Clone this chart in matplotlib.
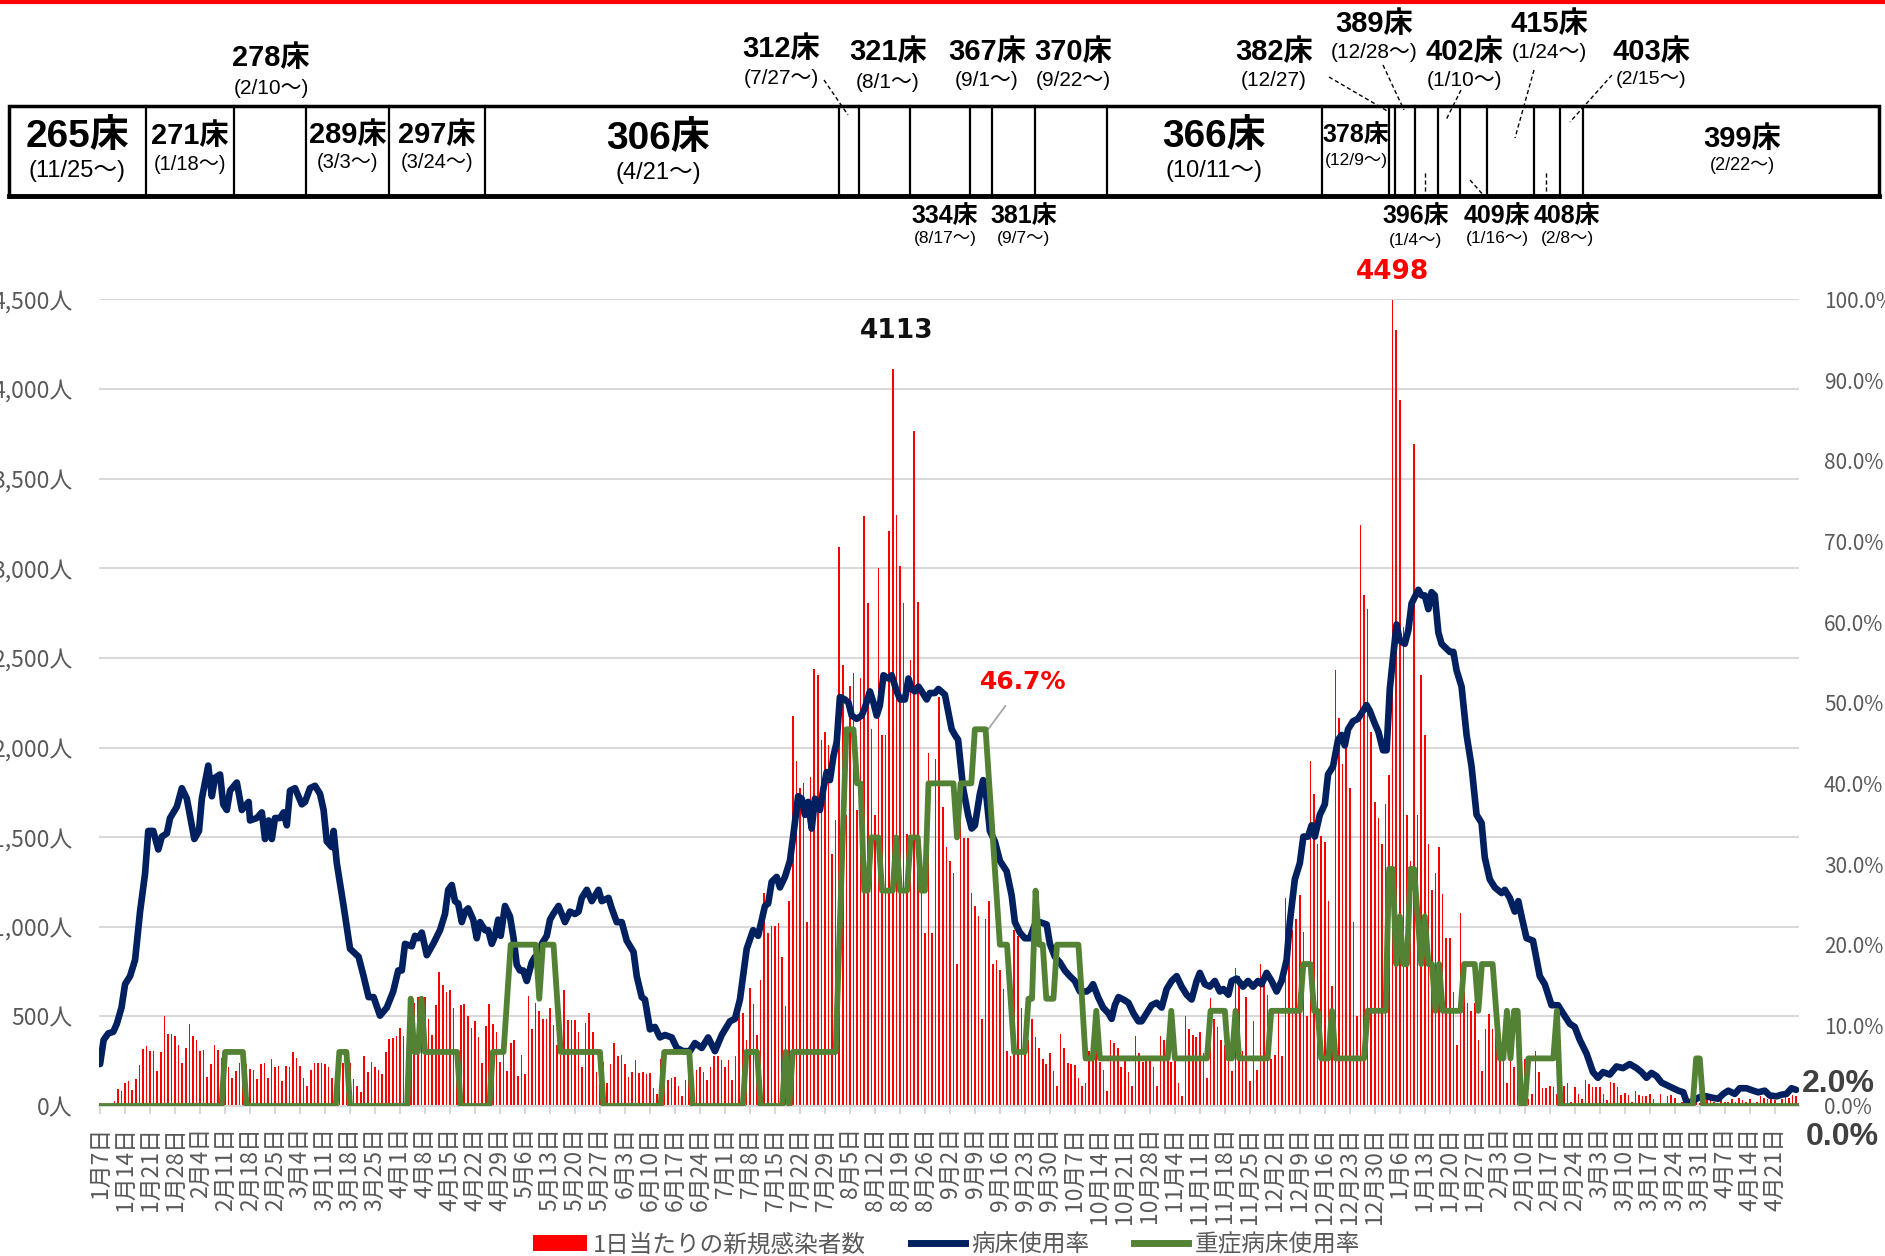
import matplotlib.pyplot as plt
import numpy as np
import pandas as pd
from matplotlib.lines import Line2D
from matplotlib.patches import Patch, Rectangle

plt.rcParams['font.family'] = ['Noto Sans CJK JP', 'DejaVu Sans']

start_date = '2021-01-07'

# daily new cases, one value per day from 1/7
new_cases = [
    18, 9, 9, 9, 30, 93, 84, 129, 138, 90,
    152, 230, 320, 332, 308, 308, 197, 302, 502, 404,
    404, 392, 338, 239, 323, 457, 389, 368, 308, 314,
    164, 233, 338, 314, 269, 230, 218, 158, 194, 242,
    218, 233, 206, 200, 150, 233, 242, 158, 260, 218,
    224, 138, 221, 218, 302, 266, 221, 158, 114, 200,
    239, 242, 239, 236, 215, 158, 188, 278, 242, 203,
    239, 152, 114, 78, 278, 188, 248, 218, 203, 176,
    302, 374, 380, 389, 437, 392, 239, 428, 577, 607,
    577, 607, 487, 398, 562, 748, 673, 637, 646, 547,
    308, 562, 571, 502, 434, 472, 383, 239, 449, 568,
    457, 413, 248, 308, 194, 353, 368, 167, 284, 179,
    616, 428, 577, 532, 487, 487, 547, 451, 338, 284,
    646, 478, 478, 478, 413, 218, 463, 517, 413, 188,
    129, 248, 129, 233, 353, 278, 287, 233, 164, 188,
    257, 182, 188, 179, 182, 99, 69, 263, 218, 144,
    158, 164, 114, 54, 144, 203, 129, 203, 218, 188,
    144, 218, 278, 278, 254, 218, 254, 144, 278, 562,
    517, 368, 661, 568, 398, 703, 1190, 966, 1002, 1002,
    1020, 831, 556, 1145, 2177, 1923, 1773, 1803, 1026, 1833,
    2437, 2407, 2042, 2087, 2012, 1408, 1594, 3119, 2461, 1624,
    2341, 2416, 1653, 2386, 3292, 2805, 2102, 1624, 2999, 2072,
    2072, 3208, 4113, 3298, 3014, 2805, 1519, 2491, 3767, 2811,
    1384, 966, 1967, 966, 1937, 2281, 1668, 1444, 1369, 1301,
    792, 1624, 1495, 1495, 1190, 1115, 1061, 487, 1046, 1145,
    795, 816, 756, 652, 308, 278, 981, 951, 547, 472,
    368, 487, 383, 323, 263, 233, 293, 194, 114, 404,
    323, 242, 233, 227, 158, 114, 129, 308, 278, 323,
    248, 203, 84, 368, 353, 323, 218, 263, 188, 114,
    392, 293, 248, 278, 263, 218, 114, 392, 368, 329,
    248, 293, 129, 54, 502, 428, 398, 383, 413, 293,
    158, 601, 487, 443, 368, 338, 278, 194, 771, 727,
    308, 607, 138, 472, 203, 792, 697, 622, 263, 284,
    547, 278, 1160, 1070, 981, 1041, 1175, 972, 502, 1923,
    1743, 1459, 1504, 1474, 1145, 667, 2431, 2162, 1908, 2072,
    1773, 1026, 502, 3244, 2849, 2775, 2087, 1698, 1609, 1459,
    1683, 1848, 4498, 4330, 3941, 2670, 1624, 1369, 3693, 1624,
    2407, 2072, 1459, 1205, 1300, 1444, 1181, 936, 936, 637,
    338, 1076, 637, 577, 532, 577, 368, 194, 428, 511,
    428, 592, 398, 368, 129, 278, 218, 233, 30, 263,
    39, 69, 308, 188, 99, 99, 114, 105, 69, 39,
    114, 129, 24, 105, 69, 39, 144, 123, 105, 105,
    105, 69, 33, 135, 129, 105, 63, 75, 60, 24,
    84, 63, 54, 54, 69, 39, 9, 69, 9, 54,
    63, 45, 9, 24, 15, 9, 24, 24, 15, 24,
    39, 33, 24, 18, 39, 24, 24, 39, 24, 45,
    33, 24, 39, 18, 24, 54, 45, 39, 39, 33,
    18, 39, 54, 45, 63, 54,
]

# bed occupancy (%), read as (day from 1/7, value)
bed_points = [
    (0, 5.2), (1, 8.2), (2.3, 9.0), (3.7, 9.2), (4.7, 10.2), (6, 12.2), (7, 15.1), (8.4, 16.1),
    (9.8, 18.1), (11.2, 24.1), (12.6, 28.8), (13.5, 34.1), (14.9, 34.1), (16.3, 31.8), (17.3, 33.4),
    (18.7, 33.8), (19.6, 35.7), (21.5, 37.1), (22.9, 39.4), (24.3, 38.1), (25.7, 34.8), (26.4, 33.1),
    (27.7, 34.1), (28.5, 38.1), (30.3, 42.2), (31.3, 38.4), (32.2, 40.7), (33.6, 41.1), (34.5, 37.4),
    (35.5, 36.7), (36.4, 39.1), (38.3, 40.1), (39.7, 36.7), (41.6, 37.7), (42, 35.4), (43.9, 35.7),
    (45.3, 36.4), (46.2, 33.1), (47.2, 35.4), (48.1, 33.1), (49, 35.7), (50.4, 35.7), (51.4, 36.4),
    (52.3, 34.8), (53.2, 39.1), (54.6, 39.4), (56.5, 37.4), (57.4, 37.7), (58.8, 39.4), (60.2, 39.7),
    (61.6, 38.7), (62.6, 36.7), (63.5, 32.8), (64.9, 32.1), (65.4, 34.1), (66.3, 30.1), (68.2, 24.8),
    (70, 19.5), (72.4, 18.5), (73.8, 16.1), (75.2, 13.5), (76.6, 13.5), (78.4, 11.2), (80.3, 12.2),
    (82.1, 14.2), (83.5, 16.8), (84.5, 16.8), (85.4, 20.1), (87.3, 19.8), (88.2, 21.1), (89.1, 20.8),
    (90.1, 21.5), (91.5, 18.7), (93.3, 20.1), (95.2, 21.8), (96.6, 23.8), (97.5, 26.8), (98.5, 27.4),
    (99.4, 25.4), (100.3, 25.1), (101.3, 22.8), (102.2, 24.1), (103.1, 24.5), (104.5, 23.1),
    (105.5, 20.8), (106.4, 22.8), (107.8, 21.8), (108.7, 21.8), (109.7, 20.1), (110.6, 21.1),
    (111.5, 23.1), (112.2, 21.1), (113.4, 24.8), (114.8, 23.5), (115.8, 20.8), (116.7, 17.5),
    (117.6, 16.8), (118.5, 16.8), (119.5, 15.5), (120.9, 17.8), (121.8, 18.5), (122.7, 17.8),
    (123.7, 20.1), (125.1, 21.1), (126, 23.1), (126.9, 23.8), (128.4, 24.8), (129.3, 23.8),
    (130.2, 22.8), (131.6, 24.1), (133, 23.8), (134, 24.1), (134.9, 25.8), (136.3, 26.8), (137.7, 25.4),
    (139.6, 26.8), (140.5, 25.4), (142.4, 25.8), (143.3, 24.5), (144.7, 22.8), (146.1, 22.8),
    (147.5, 20.5), (149.4, 19.1), (150.3, 16.1), (151.7, 13.5), (152.6, 13.2), (154, 9.5), (155.4, 9.8),
    (156.8, 8.5), (158.2, 8.8), (160.1, 8.5), (161.5, 7.2), (163.3, 6.8), (165.2, 6.8), (166.6, 7.8),
    (168.5, 7.2), (170.3, 8.5), (172.2, 6.8), (174.1, 8.8), (176.4, 10.5), (177.8, 10.8), (179.2, 13.2),
    (181.1, 19.5), (182.9, 21.8), (184.3, 21.1), (186.2, 24.8), (187.1, 25.1), (188.1, 27.8),
    (189.5, 28.4), (190.4, 27.1), (191.8, 28.4), (193.2, 30.4), (194.1, 33.4), (195.5, 38.4),
    (196.5, 38.1), (197.4, 36.1), (198.3, 37.7), (199.3, 34.4), (200.2, 38.1), (201.6, 36.7),
    (202.6, 39.4), (203.5, 41.4), (204.4, 40.4), (205.4, 43.4), (206.3, 45.1), (207.2, 50.7),
    (208.6, 50.4), (209.6, 50.0), (210.5, 48.4), (211.9, 48.0), (213.3, 48.4), (214.2, 49.4),
    (215.6, 51.4), (216.6, 50.0), (217.5, 48.4), (218.4, 49.7), (219.4, 53.4), (220.8, 53.0),
    (221.7, 53.4), (223.1, 51.4), (224.1, 50.4), (225.4, 50.4), (226.4, 53.0), (227.3, 51.7),
    (228.2, 51.4), (229.2, 52.0), (230.1, 51.4), (231.5, 50.4), (232.4, 51.2), (233.8, 51.2),
    (234.8, 51.7), (236.6, 51.0), (237.6, 48.7), (238.5, 46.7), (239.4, 46.0), (240.3, 45.4),
    (241.7, 39.4), (243.1, 36.1), (244.1, 34.4), (245, 34.8), (246.4, 38.7), (247.3, 40.4),
    (248.3, 38.1), (249.2, 34.1), (250.6, 32.8), (252, 30.4), (253.9, 29.1), (255.3, 26.1),
    (256.2, 22.8), (257.6, 21.5), (259, 20.8), (260.4, 20.8), (261.8, 22.5), (263.2, 22.8),
    (265.1, 22.5), (266, 20.1), (267.4, 18.5), (268.8, 17.8), (270.2, 16.8), (271.6, 16.1), (273, 15.5),
    (274.4, 14.2), (276.3, 14.2), (277.2, 14.5), (278.1, 15.1), (279.5, 13.5), (280.9, 12.2),
    (282.4, 11.5), (283.3, 10.8), (284.2, 12.5), (285.2, 13.5), (286.6, 13.2), (288, 12.8),
    (289.4, 11.5), (290.8, 10.5), (291.7, 10.5), (293.1, 11.5), (294.5, 12.5), (295.9, 12.8),
    (297.3, 12.2), (298.7, 14.5), (300.1, 15.5), (301.5, 16.1), (302.9, 14.8), (304.3, 13.8),
    (305.7, 13.2), (307.1, 15.5), (308, 16.5), (309.4, 15.1), (310.8, 14.8), (312.2, 15.5),
    (313.6, 14.2), (314.6, 14.5), (316, 13.8), (316.9, 15.5), (318.3, 15.8), (320.1, 14.8),
    (321.5, 15.5), (322.9, 14.8), (324.3, 15.5), (325.3, 15.1), (326.7, 16.5), (328.1, 15.5),
    (329.5, 14.2), (330.9, 15.5), (332.3, 18.1), (333.2, 22.8), (334.6, 28.1), (336, 30.1), (337, 33.4),
    (338.3, 33.4), (339.3, 34.8), (340.2, 33.4), (341.6, 36.1), (343, 37.4), (343.9, 41.1),
    (345.3, 42.1), (346.7, 45.4), (347.7, 46.0), (348.6, 44.7), (349.5, 46.7), (350.9, 47.7),
    (352.3, 48.0), (353.7, 49.0), (354.7, 49.7), (355.6, 49.0), (357, 47.4), (358, 46.4),
    (359.3, 44.1), (360.3, 44.1), (361.2, 51.7), (362.2, 56.0), (363.1, 59.7), (364, 57.7),
    (365.4, 57.3), (366.4, 59.0), (367.3, 62.3), (369.2, 64.0), (370.1, 63.3), (371, 63.3), (372, 61.6),
    (372.9, 63.7), (373.8, 63.3), (374.8, 58.7), (375.7, 57.3), (377.1, 56.7), (378, 56.3), (379, 56.3),
    (379.9, 54.0), (381.3, 52.0), (382.7, 46.0), (384.1, 42.1), (385.5, 36.1), (386.9, 35.1),
    (387.8, 30.8), (389.2, 28.1), (390.6, 27.1), (392.5, 26.4), (393.4, 26.8), (394.8, 25.8),
    (396.2, 24.1), (397.2, 25.4), (398.1, 23.5), (399.5, 20.8), (401.3, 20.5), (403.2, 16.1),
    (404.6, 15.1), (406.5, 12.5), (408.3, 12.5), (409.7, 11.5), (411.6, 10.2), (413, 9.8), (414.4, 8.2),
    (416.3, 6.5), (418.1, 4.2), (419.5, 3.5), (420.9, 4.2), (422.8, 3.9), (424.7, 4.9), (426.5, 4.7),
    (428.4, 5.2), (430.3, 4.7), (431.7, 4.2), (433.1, 3.5), (434.5, 4.1), (435.9, 3.7), (437.3, 2.9),
    (439.2, 2.5), (440.6, 2.2), (442, 1.9), (443.4, 1.7), (444.3, 0.5), (445.7, 0.5), (447.1, 0.9),
    (448.5, 1.2), (449.9, 1.2), (451.8, 1.0), (453.2, 0.9), (454.6, 1.5), (456, 1.9), (457.8, 1.5),
    (459.2, 2.2), (461.1, 2.2), (463, 1.9), (464.4, 1.7), (466.2, 1.9), (467.6, 1.3), (469.5, 1.2),
    (470.9, 1.4), (472.3, 1.5), (473.7, 2.2), (475, 2.0),
]

# severe-bed occupancy (%): value holds from that day until the next change
severe_from = [0, 35, 41, 67, 70, 87, 88, 90, 91, 101, 110, 114, 115, 123, 124, 128, 129, 141,
               158, 166, 181, 185, 192, 193, 194, 207, 208, 209, 212, 214, 216, 219, 223, 224,
               227, 230, 232, 240, 241, 245, 249, 250, 251, 252, 255, 256, 260, 262, 263, 265,
               268, 275, 276, 279, 280, 300, 301, 311, 316, 318, 319, 328, 337, 340, 342, 345,
               346, 355, 361, 363, 364, 365, 367, 369, 370, 371, 372, 374, 375, 376, 382, 386,
               387, 391, 392, 394, 395, 396, 398, 400, 408, 409, 447, 449]
severe_rate = [0, 6.7, 0, 6.7, 0, 13.3, 6.7, 13.3, 6.7, 0, 6.7, 13.3, 20, 13.3, 20, 13.3, 6.7, 0,
               6.7, 0, 6.7, 0, 6.7, 0, 6.7, 20, 33.3, 46.7, 40, 26.7, 33.3, 26.7, 33.3, 26.7,
               33.3, 26.7, 40, 33.3, 40, 46.7, 40, 33.3, 26.7, 20, 13.3, 6.7, 13.3, 26.7, 20, 13.3,
               20, 13.3, 5.9, 11.8, 5.9, 11.8, 5.9, 11.8, 5.9, 11.8, 5.9, 11.8, 17.6, 11.8, 5.9, 11.8,
               5.9, 11.8, 29.4, 17.6, 23.5, 17.6, 29.4, 23.5, 17.6, 23.5, 17.6, 11.8, 17.6, 11.8, 17.6, 11.8,
               17.6, 11.8, 5.9, 11.8, 5.9, 11.8, 0, 5.9, 11.8, 0, 5.9, 0]

# bed capacity table
bed_counts = ['265床', '271床', '278床', '289床', '297床', '306床', '312床', '321床', '334床',
              '367床', '381床', '370床', '366床', '378床', '382床', '389床', '396床', '402床',
              '409床', '415床', '408床', '403床', '399床']
bed_since = ['(11/25～)', '(1/18～)', '(2/10～)', '(3/3～)', '(3/24～)', '(4/21～)', '(7/27～)',
             '(8/1～)', '(8/17～)', '(9/1～)', '(9/7～)', '(9/22～)', '(10/11～)', '(12/9～)',
             '(12/27)', '(12/28～)', '(1/4～)', '(1/10～)', '(1/16～)', '(1/24～)', '(2/8～)',
             '(2/15～)', '(2/22～)']

# table layout in pixels: x, y of count, y of date, font sizes
label_pos = [(77, 137, 171, 28, 17), (190, 136, 165, 21, 14.5), (271, 58, 89, 21, 15),
             (348, 135, 162, 21, 14.5), (437, 135, 162, 21, 14.5), (658, 139, 173, 28, 17),
             (781, 49, 79, 21, 15), (888, 52, 82, 21, 15), (945, 216, 239, 18, 12.5),
             (987, 52, 81, 21, 15), (1024, 216, 239, 18, 12.5), (1073, 52, 81, 21, 15),
             (1214, 137, 171, 28, 17), (1356, 135, 161, 18, 12.5), (1274, 52, 81, 21, 15),
             (1374, 24, 53, 21, 15), (1416, 216, 240, 18, 12.5), (1464, 52, 81, 21, 15),
             (1497, 216, 239, 18, 12.5), (1549, 24, 53, 21, 15), (1567, 216, 238, 18, 12.5),
             (1651, 52, 80, 21, 14), (1742, 139, 166, 21, 13)]
cell_edges = [146, 234, 306, 389, 485, 839, 859, 910, 970, 992, 1035, 1107, 1322, 1389,
              1395, 1415, 1438, 1460, 1487, 1534, 1560, 1583]
leaders = [((824, 80), (848, 115)), ((1329, 77), (1389, 112)), ((1383, 65), (1404, 110)),
           ((1461, 90), (1446, 120)), ((1534, 70), (1515, 138)), ((1612, 75), (1570, 122)),
           ((1425, 173), (1425, 193)), ((1470, 180), (1485, 197)), ((1546, 173), (1546, 197))]

days = np.arange(len(new_cases))
dates = pd.date_range(start_date, periods=len(new_cases))
bed_days, bed_rate = zip(*bed_points)
severe = np.repeat(severe_rate, np.diff(severe_from + [len(new_cases)]))

W, H = 1885, 1256
fig = plt.figure(figsize=(W / 100, H / 100), dpi=100)
gray = '#595959'

ax = fig.add_axes([99 / W, 1 - 1106 / H, 1700 / W, 806.6 / H])
ax.bar(days, new_cases, width=0.45, color='#FF0000', zorder=2)
ax.set_xlim(-0.3, 475.8)
ax.set_ylim(0, 4500)
ax.set_yticks(np.arange(0, 4501, 500))
ax.set_yticklabels([f'{v:,}人' for v in range(0, 4501, 500)])
ax.tick_params(axis='y', length=0, pad=19, labelsize=16.5, labelcolor=gray)
ax.set_xticks(days[::7])
ax.set_xticklabels([f'{d.month}月{d.day}日' for d in dates[::7]], rotation=90)
ax.tick_params(axis='x', length=6, width=1.2, color='#D0D0D0', pad=9, labelsize=16.5,
               labelcolor=gray)
ax.yaxis.grid(True, color='#D9D9D9', lw=1.5)
ax.set_axisbelow(True)
for s in ['top', 'left', 'right']:
    ax.spines[s].set_visible(False)
ax.spines['bottom'].set_color('#D9D9D9')
ax.spines['bottom'].set_linewidth(1.5)

ax2 = ax.twinx()
ax2.plot(bed_days, bed_rate, color='#002060', lw=4.8, solid_joinstyle='round',
         solid_capstyle='round', zorder=3)
ax2.plot(days, severe, color='#548235', lw=4.2, solid_joinstyle='round', zorder=4)
ax2.set_ylim(0, 100)
ax2.set_yticks(np.arange(0, 101, 10))
ax2.set_yticklabels([f'{v:.1f}%' for v in range(0, 101, 10)])
ax2.tick_params(axis='y', length=0, pad=18, labelsize=15, labelcolor=gray)
for s in ax2.spines.values():
    s.set_visible(False)

# annotations
i1 = int(np.argmax(new_cases[:300]))
ax.annotate(f'{new_cases[i1]}', (days[i1], new_cases[i1]), xytext=(3, 27), textcoords='offset points',
            ha='center', va='center', fontsize=19, fontweight='bold', color='#111111',
            family='DejaVu Sans')
i2 = int(np.argmax(new_cases))
ax.annotate(f'{new_cases[i2]}', (days[i2], new_cases[i2]), xytext=(0, 20), textcoords='offset points',
            ha='center', va='center', fontsize=19, fontweight='bold', color='#FF0000',
            family='DejaVu Sans')
ax2.annotate('46.7%', (248.7, 46.7), xytext=(25, 34), textcoords='offset points', ha='center',
             va='center', fontsize=18, fontweight='bold', color='#FF0000', family='DejaVu Sans',
             arrowprops=dict(arrowstyle='-', color='#A6A6A6', lw=1.3, shrinkA=8, shrinkB=0,
                             relpos=(0.4, 0)))
ax2.annotate(f'{bed_rate[-1]:.1f}%', (bed_days[-1], bed_rate[-1]), xytext=(4, 4),
             textcoords='offset points', ha='left', va='center', fontsize=23, fontweight='bold',
             color='#404040', family='Liberation Sans')
ax2.annotate(f'{severe[-1]:.1f}%', (days[-1], severe[-1]), xytext=(7, -22),
             textcoords='offset points', ha='left', va='center', fontsize=23, fontweight='bold',
             color='#404040', family='Liberation Sans')

# legend
handles = [Patch(facecolor='#FF0000'), Line2D([], [], color='#002060', lw=5),
           Line2D([], [], color='#548235', lw=5)]
fig.legend(handles, ['1日当たりの新規感染者数', '病床使用率', '重症病床使用率'], loc='center',
           bbox_to_anchor=(0.502, 0.009), ncol=3, frameon=False, fontsize=17, labelcolor=gray,
           handlelength=2.3, handletextpad=0.25, columnspacing=1.9)

# bed capacity table on top
ov = fig.add_axes([0, 0, 1, 1])
ov.set_xlim(0, W)
ov.set_ylim(H, 0)
ov.axis('off')
ov.set_facecolor('none')
ov.plot([0, W], [1.5, 1.5], color='#FF0000', lw=3)
ov.add_patch(Rectangle((9, 106), 1870, 90, fill=False, ec='black', lw=2.5))
ov.plot([9, 1879], [196, 196], color='black', lw=3.5)
for x in cell_edges:
    ov.plot([x, x], [106, 196], color='black', lw=1.6)
for (a, b) in leaders:
    ov.plot([a[0], b[0]], [a[1], b[1]], color='black', lw=1, ls=(0, (3, 2)))
tab_font = ['Liberation Sans', 'Noto Sans CJK JP']
for cnt, since, (x, y1, y2, f1, f2) in zip(bed_counts, bed_since, label_pos):
    ov.text(x, y1, cnt, ha='center', va='center', fontsize=f1, fontweight='bold',
            family=tab_font, color='black')
    ov.text(x, y2, since, ha='center', va='center', fontsize=f2, family=tab_font, color='black')

fig.savefig('out.png', dpi=100)
